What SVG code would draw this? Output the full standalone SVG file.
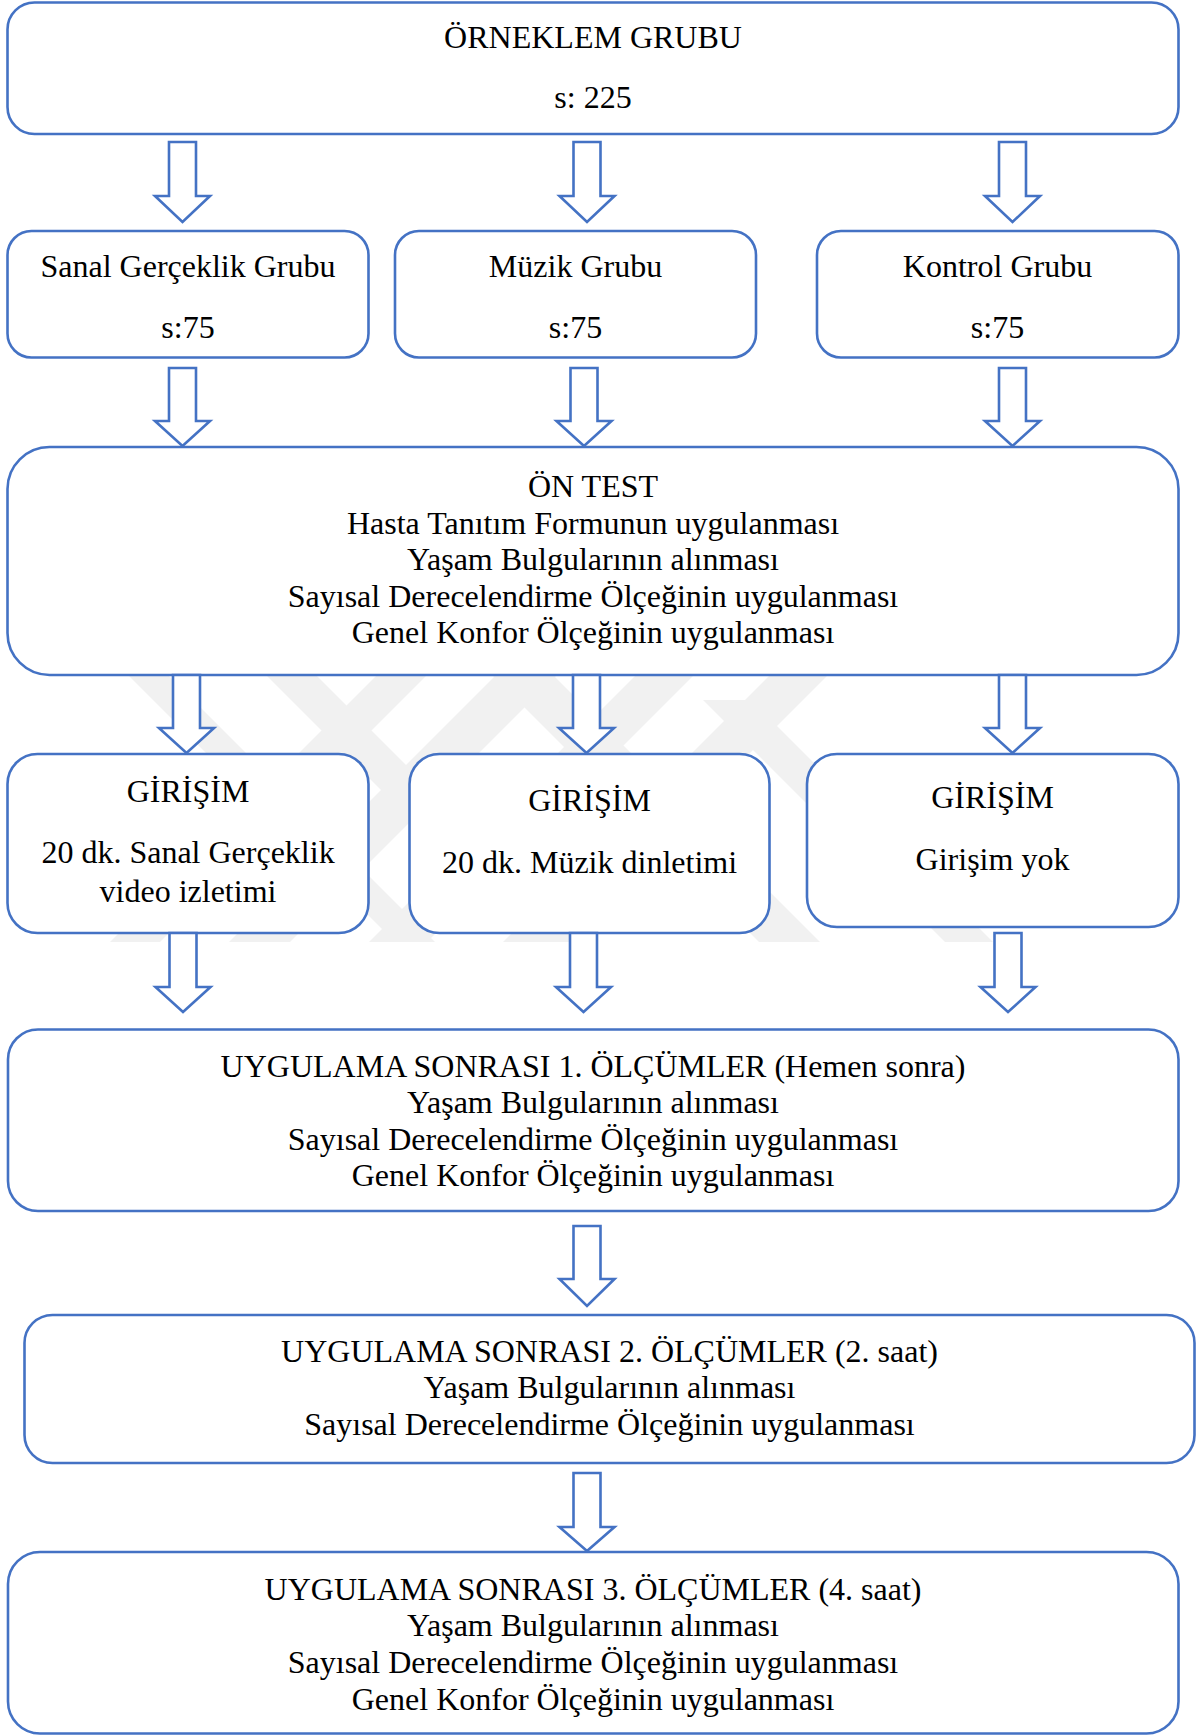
<svg xmlns="http://www.w3.org/2000/svg" width="1200" height="1736" viewBox="0 0 1200 1736">
<defs>
<style>
.box{fill:#ffffff;stroke:#4472C4;stroke-width:2.6}
.arr{fill:#ffffff;stroke:#4472C4;stroke-width:2.6;stroke-linejoin:miter}
.t{font-family:"Liberation Serif","Times New Roman",serif;font-size:32px;fill:#000000;text-anchor:middle}
.wm{fill:#f1f1f1}
</style>
<clipPath id="wmclip"><rect x="60" y="600" width="1000" height="342"/></clipPath>
</defs>
<rect x="0" y="0" width="1200" height="1736" fill="#ffffff"/>
<g id="watermark" clip-path="url(#wmclip)">
<polygon class="wm" points="53,600 93,600 438,945 398,945"/>
<polygon class="wm" points="191,600 241,600 586,945 536,945"/>
<polygon class="wm" points="452,600 502,600 157,945 107,945"/>
<polygon class="wm" points="417,600 478,600 823,945 762,945"/>
<polygon class="wm" points="571,600 632,600 287,945 226,945"/>
<polygon class="wm" points="711,600 769,600 424,945 366,945"/>
<polygon class="wm" points="845,600 903,600 558,945 500,945"/>
<polygon class="wm" points="703,700 751,700 996,945 948,945"/>
</g>
<g id="node-orneklem">
<rect class="box" x="7.5" y="2.5" width="1171" height="131.5" rx="27"/>
<text class="t" x="593" y="48">ÖRNEKLEM GRUBU</text>
<text class="t" x="593" y="108">s: 225</text>
</g>
<g id="node-sanal">
<rect class="box" x="7.5" y="231" width="361" height="126.5" rx="24"/>
<text class="t" x="188" y="277">Sanal Gerçeklik Grubu</text>
<text class="t" x="188" y="338">s:75</text>
</g>
<g id="node-muzik">
<rect class="box" x="395" y="231" width="361" height="126.5" rx="24"/>
<text class="t" x="575.5" y="277">Müzik Grubu</text>
<text class="t" x="575.5" y="338">s:75</text>
</g>
<g id="node-kontrol">
<rect class="box" x="817" y="231" width="361.5" height="126.5" rx="24"/>
<text class="t" x="997.5" y="277">Kontrol Grubu</text>
<text class="t" x="997.5" y="338">s:75</text>
</g>
<g id="node-ontest">
<rect class="box" x="7.5" y="447" width="1171" height="228" rx="42"/>
<text class="t" x="593" y="497">ÖN TEST</text>
<text class="t" x="593" y="534">Hasta Tanıtım Formunun uygulanması</text>
<text class="t" x="593" y="570">Yaşam Bulgularının alınması</text>
<text class="t" x="593" y="607">Sayısal Derecelendirme Ölçeğinin uygulanması</text>
<text class="t" x="593" y="643">Genel Konfor Ölçeğinin uygulanması</text>
</g>
<g id="node-girisim-sanal">
<rect class="box" x="7.5" y="754" width="361" height="179" rx="30"/>
<text class="t" x="188" y="802">GİRİŞİM</text>
<text class="t" x="188" y="863">20 dk. Sanal Gerçeklik</text>
<text class="t" x="188" y="902">video izletimi</text>
</g>
<g id="node-girisim-muzik">
<rect class="box" x="409.5" y="754" width="360" height="179" rx="30"/>
<text class="t" x="589.5" y="811">GİRİŞİM</text>
<text class="t" x="589.5" y="873">20 dk. Müzik dinletimi</text>
</g>
<g id="node-girisim-kontrol">
<rect class="box" x="807" y="754" width="371.5" height="173" rx="30"/>
<text class="t" x="992.5" y="808">GİRİŞİM</text>
<text class="t" x="992.5" y="870">Girişim yok</text>
</g>
<g id="node-olcum1">
<rect class="box" x="8" y="1029.5" width="1170.5" height="181.5" rx="30"/>
<text class="t" x="593" y="1077">UYGULAMA SONRASI 1. ÖLÇÜMLER (Hemen sonra)</text>
<text class="t" x="593" y="1113">Yaşam Bulgularının alınması</text>
<text class="t" x="593" y="1149.5">Sayısal Derecelendirme Ölçeğinin uygulanması</text>
<text class="t" x="593" y="1186">Genel Konfor Ölçeğinin uygulanması</text>
</g>
<g id="node-olcum2">
<rect class="box" x="24.5" y="1315" width="1170" height="148" rx="28"/>
<text class="t" x="609.5" y="1362">UYGULAMA SONRASI 2. ÖLÇÜMLER (2. saat)</text>
<text class="t" x="609.5" y="1398">Yaşam Bulgularının alınması</text>
<text class="t" x="609.5" y="1435">Sayısal Derecelendirme Ölçeğinin uygulanması</text>
</g>
<g id="node-olcum3">
<rect class="box" x="8" y="1552" width="1170.5" height="181.5" rx="32"/>
<text class="t" x="593" y="1600">UYGULAMA SONRASI 3. ÖLÇÜMLER (4. saat)</text>
<text class="t" x="593" y="1636">Yaşam Bulgularının alınması</text>
<text class="t" x="593" y="1673">Sayısal Derecelendirme Ölçeğinin uygulanması</text>
<text class="t" x="593" y="1709.5">Genel Konfor Ölçeğinin uygulanması</text>
</g>
<g id="connectors">
<path class="arr" d="M169,142 H196 V196 H210 L182.5,222 L155,196 H169 Z"/>
<path class="arr" d="M573.5,142 H600.5 V196 H614.5 L587,222 L559.5,196 H573.5 Z"/>
<path class="arr" d="M999,142 H1026 V196 H1040 L1012.5,222 L985,196 H999 Z"/>
<path class="arr" d="M169,368 H196 V421 H210 L182.5,446 L155,421 H169 Z"/>
<path class="arr" d="M570.5,368 H597.5 V421 H611.5 L584,446 L556.5,421 H570.5 Z"/>
<path class="arr" d="M999,368 H1026 V421 H1040 L1012.5,446 L985,421 H999 Z"/>
<path class="arr" d="M173,675 H200 V728 H214 L186.5,753 L159,728 H173 Z"/>
<path class="arr" d="M573,675 H600 V728 H614 L586.5,753 L559,728 H573 Z"/>
<path class="arr" d="M999,675 H1026 V728 H1040 L1012.5,753 L985,728 H999 Z"/>
<path class="arr" d="M169.5,933 H196.5 V987 H210.5 L183,1012 L155.5,987 H169.5 Z"/>
<path class="arr" d="M570,933 H597 V987 H611 L583.5,1012 L556,987 H570 Z"/>
<path class="arr" d="M994.5,933 H1021.5 V987 H1035.5 L1008,1012 L980.5,987 H994.5 Z"/>
<path class="arr" d="M573.5,1226 H600.5 V1279 H614.5 L587,1306 L559.5,1279 H573.5 Z"/>
<path class="arr" d="M573.5,1473 H600.5 V1527 H614.5 L587,1551 L559.5,1527 H573.5 Z"/>
</g>
</svg>
